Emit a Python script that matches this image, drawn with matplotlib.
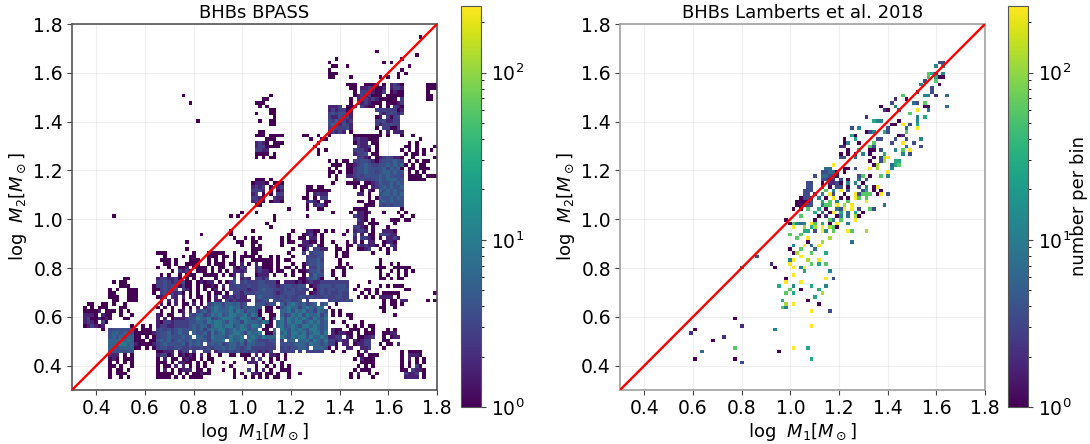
import numpy as np
import matplotlib
matplotlib.use("Agg")
import matplotlib.pyplot as plt
from matplotlib.colors import LogNorm

bin_edges = np.linspace(0.3, 1.8, 101)
ticks = [0.4, 0.6, 0.8, 1.0, 1.2, 1.4, 1.6, 1.8]
left_counts = {'1': 1, '2': 1.7, '3': 2.8, '4': 3.8, '5': 5.5, '6': 9}
right_counts = {'1': 1, '2': 2, '3': 3.5, '4': 7, '5': 12, '6': 28, '7': 60, '8': 120, '9': 240}

# (row, first column, counts per bin as level codes; '.' = empty bin)
bpass_cells = [
(96,95,"1"),(92,83,"1"),(91,94,"1"),(90,72,"1"),(90,90,"1"),(89,70,"1"),(89,85,"1"),(89,87,"1"),
(88,71,"11"),(88,75,"1"),(88,92,"1"),(87,70,"1"),(87,90,"1"),(86,70,"11"),(86,72,"1"),(86,89,"1"),(86,91,"1"),
(85,70,"11"),(85,76,"1"),(85,84,"1"),(85,86,"1"),(85,89,"1"),
(83,75,"111..1111.1.2321"),(82,75,".11.2232112.2332"),(81,75,"..1.3332113.1211"),(80,75,"..12323111.11111"),
(79,75,".1.23323211111.3"),(78,75,".1.3232111.11123"),
(83,97,"111"),(82,97,"111"),(81,97,"1"),(80,97,"11"),(79,97,"11"),
(80,30,"1"),(78,32,"1"),(73,34,"1"),
(80,54,"1"),(79,52,"11"),(78,50,"111"),(77,51,"1"),(77,53,"1"),(76,54,"11"),(75,50,"1"),(75,54,"11"),
(73,51,"1"),(73,54,"11"),(72,54,"11"),(70,51,"11"),
(77,70,"2223.11"),(77,77,"2.3211"),(77,84,"1.1.321"),
(76,70,"2323311"),(76,83,"33333312"),(75,70,"3434422"),(75,84,"3234323"),(74,70,"3224332"),(74,83,"12.3134"),
(73,70,"4353323"),(73,83,"3342233"),(72,70,"4542432"),(72,83,"3233433"),(71,70,"3433342"),(71,83,"1.33113"),
(70,70,"23232.1"),(70,84,"1.2.222"),(69,70,"1"),(69,84,"1.1"),
(74,55,"1"),
(69,50,"111.1111"),(69,63,"11..1"),(69,77,"1111111"),(69,90,"1"),(69,93,"1"),
(68,53,"111"),(68,65,"1"),(68,68,"11"),(68,77,"2322111"),(68,95,"1"),
(67,50,"2321.111"),(67,67,"1"),(67,77,"1322.11"),(67,92,"1"),(67,94,"1"),
(66,50,"2331111"),(66,66,"1"),(66,78,"3223.1"),(66,91,"11.1"),(66,99,"1"),
(65,50,"3322"),(65,67,"1.1"),(65,77,"33321.1"),(65,90,"1.1.1.1"),(65,98,"1"),
(64,50,"1111.1"),(64,67,"1"),(64,77,"2334.11"),(64,91,"1.11.1"),
(63,50,"1.1"),(63,54,"11"),(63,78,"3321.1"),(63,84,"2343221"),(63,93,"1"),(63,99,"1"),
(62,70,"1.1.11"),(62,77,"3344321"),(62,84,"3444543"),(62,92,"1.1.1"),(62,97,"1"),
(61,71,"111"),(61,75,"11"),(61,77,"2345433"),(61,84,"4454545"),(61,91,"1.1.11"),
(60,70,"1.1"),(60,75,"111"),(60,77,"3445444"),(60,84,"4535454"),(60,90,"1"),(60,92,"11.111"),
(59,70,"11.1"),(59,75,"1134454434554544"),(59,92,"1.1.1"),
(58,70,"1"),(58,72,"1"),(58,75,"2234344445454443"),(58,92,"1111.111"),
(57,50,"111"),(57,54,"1"),(57,72,"1"),(57,77,"234334454555"),(57,89,"44"),(57,92,"11111"),
(56,49,"12221.111"),(56,71,"1"),(56,75,"1111.1123"),(56,84,"5445454"),
(55,49,"2323.1.23"),(55,64,"11.11"),(55,77,"1.11.23"),(55,84,"4545445"),
(54,49,"3332.1.12"),(54,64,"1111111"),(54,79,"1.21"),(54,84,"5454544"),
(53,49,"23.1.1.33"),(53,64,"1.2322"),(53,78,"22.1"),(53,84,"4554545"),
(52,49,"3321..322"),(52,63,"11.1.33"),(52,81,"1.1"),(52,84,"5445454"),
(51,49,"2321.1221"),(51,64,"2321.11"),(51,78,"11"),(51,81,"11"),(51,84,"4545444"),
(50,50,"11"),(50,64,"1.2331"),(50,80,"111"),(50,84,"4343444"),
(49,59,"1"),(49,64,"1"),(49,67,"11"),(49,77,"1111"),(49,90,"1"),
(48,46,"1"),(48,50,"1"),(48,71,"1"),(48,76,"1"),(48,78,"2212"),(48,85,"1"),(48,89,"1.1"),
(47,11,"1"),(47,43,"1"),(47,45,"1"),(47,55,"1"),(47,64,"1"),(47,77,"3221"),(47,90,"1"),(47,93,"1"),
(46,55,"1"),(46,78,"321"),(46,82,"1"),(46,87,"111"),(46,91,"11"),
(45,53,"1"),(45,78,"22.11"),(45,83,"1"),(45,88,"1"),
(44,54,"1"),(44,77,"3321"),(44,82,"1"),(44,86,"1"),
(43,43,"1"),(43,49,"1"),(43,60,"1"),(43,64,"2211.1"),(43,71,"1"),(43,75,"1"),(43,77,"2332.1"),(43,85,"2221"),
(42,35,"1"),(42,43,"1"),(42,59,"1"),(42,63,"1231.1"),(42,74,"1"),(42,77,"3.2.11"),(42,84,"33322"),
(41,44,"1"),(41,47,"1"),(41,49,"1.1"),(41,57,"1.1"),(41,62,"11.22.1"),(41,77,"2.3321"),(41,84,"1.2232"),
(40,31,"1"),(40,45,"11"),(40,49,"11"),(40,57,"1"),(40,59,"11"),(40,63,"2211.1"),(40,71,"1"),(40,75,"1"),(40,77,"2.1.22"),(40,85,"1221"),
(39,46,"1"),(39,49,"1.1"),(39,57,"1"),(39,62,"1223.21"),(39,72,"1"),(39,75,"11"),(39,78,"323221"),(39,85,"1.32"),
(38,31,"1"),(38,49,"111"),(38,60,"1"),(38,63,"13.3322"),(38,72,"11"),(38,75,"1"),(38,78,"1123"),(38,84,"1.1.2"),
(37,23,"111"),(37,33,"1"),(37,37,"11111"),(37,44,"1"),(37,47,"1"),(37,49,"11"),(37,59,"1"),(37,63,"3.3444"),(37,72,"1"),(37,74,"11"),(37,82,"1"),(37,86,"1"),
(36,25,"1"),(36,30,"1"),(36,32,"11"),(36,37,"111.11"),(36,44,"1"),(36,46,"1111"),(36,51,"1"),(36,54,"1"),(36,56,"1"),(36,60,"1"),(36,64,"33344"),(36,72,"1.11"),
(35,24,"111"),(35,28,"1"),(35,32,"111"),(35,37,"1.1.1"),(35,44,"1.1"),(35,49,"1111"),(35,53,"11"),(35,56,"1"),(35,58,"11"),(35,64,"34453"),(35,73,"1"),(35,84,"1"),
(34,25,"11"),(34,28,"1"),(34,31,"1111"),(34,37,"1.111.11"),(34,46,"2.1"),(34,50,"2.111.1"),(34,60,"1"),(34,63,"134454"),(34,73,"1"),(34,75,"1"),(34,84,"1..1"),(34,89,"1"),
(33,23,"1"),(33,26,"1"),(33,29,"112.1111"),(33,38,"1"),(33,40,"11"),(33,44,"2132"),(33,50,"23111"),(33,56,"1.11"),(33,61,"1"),(33,63,"1.3354"),(33,72,"11"),(33,74,"1"),(33,76,"1"),(33,83,"111..11111"),
(32,27,"1"),(32,29,"3231.111"),(32,38,"1.1.1"),(32,44,"2223"),(32,50,"23221"),(32,56,"11"),(32,60,"1.1"),(32,63,"124453"),(32,71,"1"),(32,74,"1"),(32,84,"1"),(32,87,"1.1.1"),(32,93,"1"),
(31,24,"1"),(31,26,"1"),(31,29,"1.111"),(31,36,"1111"),(31,41,"1.1"),(31,44,"2.3"),(31,50,"1222"),(31,55,"1"),(31,58,"1.1"),(31,63,"1.3544"),(31,71,"1"),(31,74,"1"),(31,84,"1.1"),(31,89,"1.1"),
(30,14,"11"),(30,23,"2332"),(30,27,"231"),(30,31,"1"),(30,33,"1"),(30,35,"1"),(30,39,"1"),(30,44,"3"),(30,46,"232"),(30,50,"3324"),(30,62,"1134531"),(30,72,"1"),(30,84,"11.1.11"),
(29,11,"1"),(29,13,"11"),(29,23,"3343233411.12122"),(29,40,"1.1"),(29,43,"34.3433"),(29,50,"344333"),(29,56,"1.22212123"),(29,66,"223333"),(29,72,"3333"),(29,81,"1"),
(28,13,"111"),(28,22,"13343431311.1.112"),(28,39,"1.2"),(28,43,"3343343"),(28,50,"3444332"),(28,57,"3443344.1"),(28,66,"234443"),(28,72,"4443"),(28,78,"1"),(28,84,"1.1"),(28,86,"1.111"),
(27,10,"1"),(27,12,"1"),(27,15,"111"),(27,22,"1134334.321.1.1.12"),(27,41,"1"),(27,43,"3333323"),(27,50,"3454433"),(27,57,"3434343"),(27,64,"3"),(27,66,"134344"),(27,72,"3444"),(27,77,"1"),(27,80,"11.1"),(27,91,"11"),
(26,10,"11"),(26,15,"111"),(26,22,"1.3433231.1.1"),(26,37,"1.11.1"),(26,44,"332433"),(26,50,"4444432"),(26,57,"3444333"),(26,65,"1"),(26,66,"2343"),(26,70,"4334"),(26,74,"33"),(26,79,"1.1.1"),(26,85,"111"),(26,88,"11"),(26,99,"1"),
(25,10,"111"),(25,15,"111"),(25,23,"123.32.2"),(25,32,"1.11.1.2"),(25,41,"2232322"),(25,50,"4544433"),(25,57,"4343344"),(25,64,"3433"),(25,68,"343344"),(25,74,"33"),(25,78,"1.1"),(25,82,"1"),(25,84,"2222"),(25,89,"1"),
(24,11,"11"),(24,15,"111"),(24,24,"1.2.2.1"),(24,33,"1.1.1.22"),(24,42,"3232222"),(24,50,"3344.44"),(24,57,"344334"),(24,64,"3"),(24,70,"3433344"),(24,85,"1.11"),(24,88,"1.22"),(24,97,"1"),(24,99,"1"),
(23,4,"11"),(23,8,"11"),(23,11,"1"),(23,14,"1"),(23,24,"2"),(23,26,"1.2"),(23,30,"11.2.1"),(23,37,"3455"),(23,41,"35"),(23,43,"54534"),(23,50,"44434"),(23,55,"4"),(23,57,"5356"),(23,61,"5456"),(23,64,"345"),(23,68,"45..1"),(23,85,"1.1"),(23,88,"1.1"),
(22,3,"1"),(22,5,"1"),(22,7,"111"),(22,13,"11"),(22,23,"1.1"),(22,27,"1"),(22,30,"1"),(22,32,"1.2"),(22,36,"2456"),(22,40,"54565"),(22,45,"53545"),(22,50,"44.11.1"),(22,57,"4565"),(22,61,"5356"),(22,65,"5466"),(22,70,"1"),(22,84,"11"),(22,88,"1"),
(21,3,"11112.111"),(21,13,"1"),(21,15,"1"),(21,24,"1"),(21,27,"1.12"),(21,32,"2"),(21,34,"34535655"),(21,42,"5646535"),(21,49,"54"),(21,51,"1.1"),(21,53,"11"),(21,57,"556465"),(21,63,"64536"),(21,68,"54"),(21,71,"1.1"),(21,85,"1"),
(20,3,"2221.211"),(20,13,"1"),(20,16,"1"),(20,23,"21"),(20,26,"11"),(20,30,"2"),(20,32,"4355346"),(20,39,"5645665"),(20,46,"56465"),(20,51,"1..11"),(20,57,"5346"),(20,61,"56465"),(20,66,"5635"),(20,71,"1.1.11"),(20,88,"1"),
(19,3,"23112121"),(19,14,"11"),(19,23,"2"),(19,25,"2.1"),(19,28,"2223"),(19,32,"4465"),(19,36,"563456"),(19,42,"665466"),(19,48,"5346"),(19,52,"1.1"),(19,55,"5"),(19,57,"64656"),(19,62,"565465"),(19,68,"46"),(19,76,"1"),
(18,3,"2321.31"),(18,23,"2133233"),(18,30,"3"),(18,31,"3445"),(18,35,"54656"),(18,40,"65465"),(18,45,"53655"),(18,50,"5465"),(18,54,"1"),(18,56,"56465"),(18,61,"66456"),(18,66,"5645"),(18,71,"1"),(18,74,"1"),(18,79,"1"),
(17,3,"1232"),(17,7,"12"),(17,16,"1"),(17,19,"1.1"),(17,23,"23322"),(17,28,"3333"),(17,32,"4545"),(17,36,"53566"),(17,41,"56645"),(17,46,"65466"),(17,51,"5.1"),(17,54,"1"),(17,56,"56456"),(17,61,"54665"),(17,66,"6545"),(17,75,"1"),(17,77,"1.1.11"),(17,82,"1"),
(16,8,"1"),(16,10,"3444444"),(16,17,"1"),(16,19,"11"),(16,21,"1"),(16,23,"3434"),(16,27,"3454"),(16,31,"4454"),(16,35,"53565"),(16,40,"66456"),(16,45,"56645"),(16,50,"5.11"),(16,55,"5"),(16,57,"65465"),(16,62,"65466"),(16,67,"545"),(16,71,"211"),(16,76,"111"),(16,80,"1.1"),(16,86,"1.1"),
(15,10,"4554554"),(15,17,"1"),(15,19,"1.1"),(15,22,"2"),(15,23,"3445"),(15,27,"3454"),(15,31,"4.54"),(15,35,"45364"),(15,40,"56456"),(15,45,"65365"),(15,50,"56.11"),(15,55,"5"),(15,57,"56466"),(15,62,"56456"),(15,67,"646"),(15,71,"2"),(15,72,"12211"),(15,78,"1"),(15,80,"111"),(15,85,"1122"),
(14,10,"4545455"),(14,17,"12"),(14,20,"1"),(14,22,"1"),(14,23,"3445"),(14,27,"4445"),(14,31,"45.5"),(14,35,"54365"),(14,40,"55465"),(14,45,"56.56"),(14,50,"54655"),(14,55,"5"),(14,57,"65465"),(14,62,"66465"),(14,67,"565"),(14,70,"2233"),(14,75,"21.1"),(14,79,"1223"),(14,85,"1.122"),
(13,10,"5556565"),(13,17,"1"),(13,19,"1"),(13,21,"1.1"),(13,23,"4545"),(13,27,"3454"),(13,31,"4545"),(13,35,"45355"),(13,40,"56.65"),(13,45,"56365"),(13,50,"43334"),(13,55,"4"),(13,57,"3.55.5"),(13,63,"5646"),(13,67,"546"),(13,70,"3323"),(13,74,"22.2"),(13,78,"1233"),(13,85,"11"),
(12,10,"5556655"),(12,17,"21"),(12,19,"1"),(12,22,"2"),(12,23,"3454"),(12,27,"4445"),(12,31,"3545"),(12,35,"4.454"),(12,40,"53455"),(12,45,"45355"),(12,50,"44433"),(12,55,"4"),(12,57,"444455"),(12,63,"5465"),(12,67,"545"),(12,70,"33"),(12,72,"1.22"),(12,77,"1"),(12,78,"2233"),(12,84,"1"),(12,86,"11.2"),
(11,10,"5545555"),(11,17,"11"),(11,20,"1"),(11,22,"1"),(11,23,"3443"),(11,27,"3443"),(11,31,"3433"),(11,35,"4343"),(11,39,"44545"),(11,44,"54345"),(11,49,"33333"),(11,54,"33"),(11,57,"343445"),(11,63,"54.55"),(11,68,"54"),(11,70,"1"),(11,72,"1"),(11,75,"22"),(11,79,"223"),(11,85,"1"),
(10,10,"4444444"),(10,23,"1122"),(10,27,"2.23"),(10,31,"3.3"),(10,36,"33.2"),(10,40,"34343"),(10,45,"43434"),(10,50,"3232"),(10,54,"3"),(10,57,"3333.3"),(10,64,"333"),(10,67,"33"),(10,71,"1"),(10,74,"1"),(10,78,"1.2"),(10,90,"1.1111"),
(9,10,"222.1"),(9,16,"1"),(9,23,"23312.12121.2.1"),(9,40,"1"),(9,43,"11.111"),(9,50,"2.1.22"),(9,56,"1.1"),(9,78,"11"),(9,81,"111"),(9,90,"1.2221"),
(8,10,"121"),(8,14,"111"),(8,23,"1.2.11.1211.1.11"),(8,47,"1"),(8,49,"2.3"),(8,54,"1.1"),(8,58,"1"),(8,77,"1"),(8,79,"2111"),(8,90,"1.2"),(8,94,"1"),(8,96,"1"),
(7,10,"1.1.1.1"),(7,23,"111.1.2211.1.1"),(7,38,"1"),(7,41,"1"),(7,44,"1"),(7,48,"222"),(7,52,"1.1"),(7,57,"1"),(7,79,"1111"),(7,90,"1.1.2"),(7,94,"1.1"),
(6,10,"11.1"),(6,16,"1"),(6,23,"1.11.2.2.1.1.1"),(6,43,"1"),(6,50,"1"),(6,53,"1.1"),(6,57,"1"),(6,59,"1"),(6,78,"1"),(6,80,"1.1"),(6,90,"1.1.3"),(6,95,"1"),
(5,10,"1.11.1"),(5,23,"1.2.1.1222.11.1"),(5,41,"1"),(5,44,"1"),(5,48,"3.1"),(5,52,"2.1"),(5,57,"11"),(5,59,"1"),(5,77,"1.111"),(5,90,"11.322"),(5,96,"1"),
(4,10,"1.111"),(4,23,"11111.1.1.11211"),(4,44,"1"),(4,46,"1"),(4,49,"221.11"),(4,56,"1"),(4,59,"1"),(4,62,"1"),(4,76,"1"),(4,78,"2"),(4,81,"1"),(4,83,"1"),(4,91,"3223"),(4,96,"1"),
(3,10,"1"),(3,13,"1"),(3,15,"1"),(3,23,"1111.1.1.1111"),(3,44,"1"),(3,47,"1"),(3,49,"1.1"),(3,53,"1.11"),(3,59,"1"),(3,76,"1"),(3,78,"1"),(3,82,"1"),(3,91,"2222"),(3,96,"1"),
(15,18,"1.11"),(13,18,"11.11"),(12,20,"11"),(11,18,"1.1"),(14,18,"1.1"),
]

lamberts_cells = [
(89,87,"33"),(88,86,"5"),(88,88,"5"),(86,84,"76"),(86,86,"2"),(86,88,"5"),(85,84,"7"),(85,86,"6"),(85,87,"11"),
(84,83,"3"),(84,86,"7"),(83,82,"5"),(83,87,"1"),(82,85,"3"),(81,85,"3"),(81,81,"1"),(80,83,"55"),(80,86,"2"),(80,89,"4"),
(80,77,"7"),(79,75,"2"),(79,78,"1"),(78,74,"3"),(78,80,"43"),(78,83,"7"),(77,71,"1"),(77,75,"5"),(77,83,"11"),(77,89,"4"),
(76,72,"21"),(76,76,"3"),(76,81,"9"),(76,84,"4"),(75,79,"7"),(74,67,"2"),(74,81,"5"),(74,83,"6"),
(73,69,"655"),(73,76,"1"),(73,81,"5"),(72,74,"11"),(72,77,"9"),(72,79,"3"),(72,81,"6"),
(71,63,"3"),(71,65,"5"),(71,73,"3"),(71,78,"4"),(71,81,"9"),(70,67,"1"),(70,68,"35"),(70,72,"63"),(70,78,"7"),
(69,63,"61"),(69,76,"12"),(68,61,"1"),(68,64,"6"),(68,70,"33"),(68,75,"3"),(68,78,"3"),(68,82,"5"),
(67,61,"15"),(67,65,"1"),(67,69,"7"),(67,74,"3"),(67,77,"9"),(67,80,"3"),
(66,60,"22"),(66,68,"73"),(66,78,"4"),(66,82,"3"),(65,62,"1"),(65,65,"6"),(65,68,"11"),(65,71,"3"),(65,75,"5"),(65,77,"7"),(65,79,"9"),
(64,60,"1"),(64,62,"1"),(64,64,"1"),(64,66,"5"),(64,68,"1"),(64,72,"6"),(64,77,"5"),(64,79,"3"),
(63,71,"389"),(63,60,"33"),(63,64,"4"),(63,69,"1"),
(62,68,"1"),(62,71,"38"),(62,75,"66"),(61,58,"9"),(61,69,"18"),(61,74,"466"),(61,76,"7"),
(60,56,"44"),(60,61,"11"),(60,64,"3"),(60,68,"9"),(60,70,"8"),(60,74,"5"),
(59,55,"33441"),(59,61,"1"),(59,73,"9"),(58,53,"3"),(58,55,"4433"),(58,59,"1"),(58,65,"37"),(58,68,"1"),(58,71,"7"),(58,73,"5"),
(57,55,"3312"),(57,60,"3"),(57,62,"1"),(57,65,"4"),(57,67,"3"),
(56,51,"33"),(56,55,"1.223"),(56,60,"1"),(56,62,"5"),(56,64,"5"),(56,66,"1"),
(55,51,"33"),(55,55,"3.1"),(55,59,"33"),(55,62,"1"),(55,65,"3"),(55,67,"5"),(55,69,"1"),(55,70,"9"),
(54,50,"333"),(54,56,"7"),(54,58,"5"),(54,60,"9"),(54,62,"3"),(54,66,"36"),(54,69,"1"),(54,71,"1"),
(53,50,"33"),(53,53,"2"),(53,55,"5"),(53,57,"93"),(53,61,"1"),(53,64,"93777"),(53,70,"1"),(53,71,"9"),(53,73,"3"),
(52,49,"133"),(52,52,"2"),(52,54,"5"),(52,56,"1"),(52,58,"9"),(52,60,"1"),(52,62,"1"),(52,64,"97"),(52,67,"7"),
(51,48,"1111"),(51,52,"3"),(51,55,"6"),(51,57,"7"),(51,59,"5"),(51,62,"7"),(51,67,"9"),
(50,48,"11133"),(50,55,"577"),(50,59,"9"),(50,61,"8"),(50,63,"9"),(50,72,"4"),
(49,47,"1"),(49,49,"1"),(49,51,"7"),(49,54,"6"),(49,56,"1"),(49,59,"439"),(49,63,"9"),(49,65,"3"),(49,68,"73"),
(48,53,"6"),(48,55,"4"),(48,57,"19"),(48,60,"6"),(48,62,"4"),(48,64,"6"),(48,66,"1"),
(47,49,"7"),(47,54,"1"),(47,56,"2"),(47,59,"15"),(47,62,"4"),(47,64,"81"),
(46,45,"1"),(46,53,"1"),(46,57,"74"),(46,60,"7"),(46,64,"9"),
(45,46,"17545"),(45,52,"97"),(45,55,"6"),(45,57,"1"),(45,59,"9"),(45,62,"5"),
(44,47,"9"),(44,50,"8"),(44,53,"8"),(44,55,"9"),(44,57,"8"),(44,59,"1"),(44,52,"6"),(44,58,"7"),
(43,50,"66"),(43,53,"3"),(43,55,"95"),(43,58,"7"),(43,62,"97"),(43,67,"8"),
(42,46,"7"),(42,49,"7"),(41,48,"7"),(41,51,"9"),(41,57,"8"),
(40,51,"1"),(40,55,"8"),(40,63,"4"),(39,47,"5"),(39,50,"9"),(39,52,"4"),(39,54,"9"),
(38,46,"1"),(38,49,"7"),(38,53,"4"),(37,47,"1"),(37,48,"8"),(37,52,"7"),(37,56,"6"),
(36,37,"3"),(36,49,"9"),(35,46,"59"),(35,51,"8"),(35,54,"9"),(34,41,"2"),(34,46,"9"),(34,52,"7"),(34,54,"6"),(34,56,"7"),
(33,33,"3"),(33,42,"1"),(33,47,"9"),(33,49,"59"),(32,50,"6"),(32,57,"5"),(31,47,"9"),(30,45,"1"),(30,56,"9"),(30,58,"3"),
(29,45,"9"),(29,49,"9"),(28,43,"6"),(28,47,"5"),(28,52,"6"),(28,56,"5"),(27,46,"7"),(27,49,"1"),(27,54,"6"),
(26,45,"7"),(26,47,"6"),(26,55,"8"),(25,53,"6"),(24,44,"6"),(24,51,"1"),(23,45,"8"),(23,47,"9"),(23,54,"1"),
(22,44,"75"),(21,52,"9"),(21,57,"3"),(19,31,"1"),(17,33,"2"),(17,52,"9"),(16,20,"1"),(16,42,"5"),(15,19,"2"),
(14,28,"2"),(13,25,"1"),(11,31,"7"),(11,47,"9"),(11,51,"6"),(10,22,"4"),(10,43,"1"),(8,20,"1"),(8,31,"1"),(8,52,"6"),(7,33,"3"),
]

def build_grid(cells, levels):
    grid = np.zeros((100, 100))
    for row, col, text in cells:
        for k, ch in enumerate(text):
            if ch != '.' and col + k < 100:
                grid[row, col + k] = levels[ch]
    return np.ma.masked_equal(grid, 0)

fig = plt.figure(figsize=(10.9, 4.44), dpi=100)
W, H = 1090.0, 444.0
panels = [
 dict(ax=(72, 24, 365, 366), cb=(461, 6, 20, 401), title="BHBs BPASS",
      grid=build_grid(bpass_cells, left_counts), spine='#555555', label=None),
 dict(ax=(620, 24, 365, 366), cb=(1008, 6, 20, 401), title="BHBs Lamberts et al. 2018",
      grid=build_grid(lamberts_cells, right_counts), spine='#a0a0a0', label="number per bin"),
]
norm = LogNorm(1, 250)
for p in panels:
    x, y, w, h = p['ax']
    ax = fig.add_axes([x / W, 1 - (y + h) / H, w / W, h / H])
    m = ax.pcolormesh(bin_edges, bin_edges, p['grid'], cmap='viridis', norm=norm, rasterized=True)
    ax.plot([0.3, 1.8], [0.3, 1.8], color='red', lw=1.7, zorder=4)
    ax.set_xlim(0.3, 1.8); ax.set_ylim(0.3, 1.8)
    ax.set_xticks(ticks); ax.set_yticks(ticks)
    ax.grid(True, color='#b0b0b0', alpha=0.2, lw=0.8)
    ax.set_axisbelow(True)
    ax.tick_params(labelsize=13.5, length=3.5, color='#444444', pad=3)
    for s in ax.spines.values():
        s.set_color(p['spine']); s.set_linewidth(1.2)
    ax.set_xlabel(r"log  $M_1 [M_\odot]$", fontsize=13, labelpad=2)
    ax.set_ylabel(r"log  $M_2 [M_\odot]$", fontsize=13, labelpad=3)
    ax.set_title(p['title'], fontsize=13, pad=4)
    cx, cy, cw, ch = p['cb']
    cax = fig.add_axes([cx / W, 1 - (cy + ch) / H, cw / W, ch / H])
    cb = fig.colorbar(m, cax=cax)
    cb.ax.tick_params(labelsize=13.5, color='#444444')
    cb.outline.set_edgecolor('#555555')
    if p['label']:
        cb.set_label(p['label'], fontsize=13, labelpad=-1)
fig.savefig("out.png", dpi=100)
